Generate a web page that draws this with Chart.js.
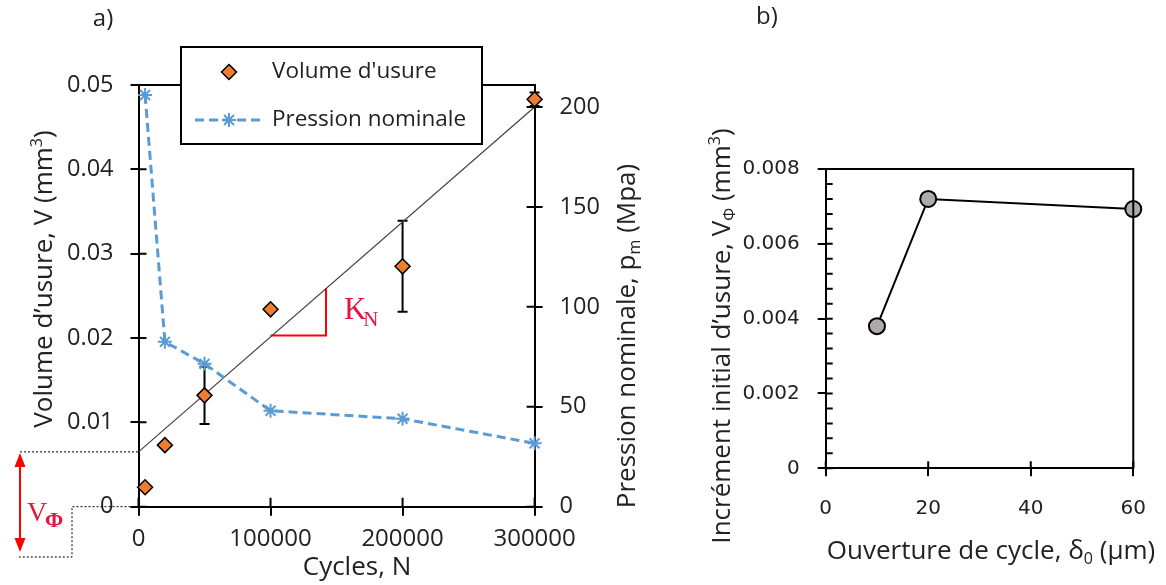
<!DOCTYPE html>
<html lang="fr">
<head>
  <meta charset="UTF-8" />
  <title>Volume d'usure et incrément initial</title>
  <script src="https://cdn.jsdelivr.net/npm/chart.js"></script>
  <style>
    html, body { margin: 0; padding: 0; background: #fff; }
    body { width: 1166px; height: 585px; position: relative; overflow: hidden; }
    #wrapA { position: absolute; left: 0; top: 0; width: 680px; height: 585px; }
    #wrapB { position: absolute; left: 680px; top: 0; width: 486px; height: 585px; }
  </style>
</head>
<body>
  <div id="wrapA"><canvas id="chartA" width="680" height="585"></canvas></div>
  <div id="wrapB"><canvas id="chartB" width="486" height="585"></canvas></div>

  <script>
    // panel a) volume d'usure vs cycles
    const cycles = [5000, 20000, 50000, 100000, 200000, 300000];
    const wearVolume = [0.0023, 0.0073, 0.0132, 0.0234, 0.0285, 0.0483];
    const wearError = [0, 0, 0.0034, 0, 0.0054, 0.0008];
    const pressure = [206, 82.5, 71.5, 48, 44, 31.7];
    const trendCycles = [0, 300000];
    const trendVolume = [0.0065, 0.0474];
    const slopeCycles = [100000, 142000, 142000];
    const slopeVolume = [0.0203, 0.0203, 0.0259];
    const cycleTicks = [0, 100000, 200000, 300000];
    const volumeTicks = [0, 0.01, 0.02, 0.03, 0.04, 0.05];
    const pressureTicks = [0, 50, 100, 150, 200];

    // panel b) incrément initial vs ouverture de cycle
    const opening = [10, 20, 60];
    const initialWear = [0.0038, 0.0072, 0.00693];
    const openingTicks = [0, 20, 40, 60];
    const initialWearTicks = [0, 0.002, 0.004, 0.006, 0.008];

    const TEXT = '#222';
    const SANS = "'Open Sans', sans-serif";
    const SERIF = "'Liberation Serif', serif";

    // text with sub/superscript parts, centred on (x, y)
    function drawRich(ctx, parts, x, y, size, family, color, rotation) {
      ctx.save();
      ctx.translate(x, y);
      ctx.rotate(rotation || 0);
      ctx.fillStyle = color;
      ctx.textBaseline = 'middle';
      ctx.textAlign = 'left';
      let total = 0;
      parts.forEach(p => {
        p.fs = (p.sub || p.sup) ? size * 0.62 : size;
        ctx.font = (p.bold ? 'bold ' : '') + p.fs + 'px ' + family;
        p.w = ctx.measureText(p.t).width;
        total += p.w;
      });
      let cx = -total / 2;
      parts.forEach(p => {
        ctx.font = (p.bold ? 'bold ' : '') + p.fs + 'px ' + family;
        const dy = p.sub ? size * 0.3 : (p.sup ? -size * 0.3 : 0);
        ctx.fillText(p.t, cx, dy);
        cx += p.w;
      });
      ctx.restore();
    }

    // inner half of crossing tick marks
    function innerTicks(ctx, scale, values, len) {
      const area = scale.chart.chartArea;
      ctx.beginPath();
      values.forEach(v => {
        const p = scale.getPixelForValue(v);
        if (scale.position === 'left') { ctx.moveTo(area.left, p); ctx.lineTo(area.left + len, p); }
        else if (scale.position === 'right') { ctx.moveTo(area.right, p); ctx.lineTo(area.right - len, p); }
        else { ctx.moveTo(p, area.bottom); ctx.lineTo(p, area.bottom - len); }
      });
      ctx.stroke();
    }

    function axisStyle(extra) {
      return Object.assign({
        grid: { drawOnChartArea: false, tickLength: 8, color: '#000', lineWidth: 2 },
        border: { color: '#000', width: 2 }
      }, extra);
    }

    const panelA = {
      id: 'panelA',
      beforeDatasetsDraw(chart) {
        const { ctx, scales: { x, y } } = chart;
        ctx.save();
        ctx.strokeStyle = '#000';
        ctx.lineWidth = 2;
        cycles.forEach((n, i) => {
          const e = wearError[i];
          if (!e) return;
          const px = x.getPixelForValue(n);
          const top = y.getPixelForValue(wearVolume[i] + e);
          const bot = y.getPixelForValue(wearVolume[i] - e);
          ctx.beginPath();
          ctx.moveTo(px, top); ctx.lineTo(px, bot);
          ctx.moveTo(px - 5, top); ctx.lineTo(px + 5, top);
          ctx.moveTo(px - 5, bot); ctx.lineTo(px + 5, bot);
          ctx.stroke();
        });
        ctx.restore();
      },
      afterDraw(chart) {
        const { ctx, chartArea: a, scales: { x, y, y1 } } = chart;
        ctx.save();
        ctx.strokeStyle = '#000';
        ctx.lineWidth = 2;
        ctx.beginPath();
        ctx.moveTo(a.left - 1, a.top); ctx.lineTo(a.right + 1, a.top);
        ctx.stroke();
        innerTicks(ctx, x, cycleTicks, 9);
        innerTicks(ctx, y, volumeTicks, 8);
        innerTicks(ctx, y1, pressureTicks, 8);

        // K_N label beside the slope triangle
        const kx = x.getPixelForValue(slopeCycles[1]) + 18;
        const ky = (y.getPixelForValue(slopeVolume[1]) + y.getPixelForValue(slopeVolume[2])) / 2;
        ctx.fillStyle = '#e3173e';
        ctx.textBaseline = 'alphabetic';
        ctx.font = '31px ' + SERIF;
        ctx.fillText('K', kx, ky + 7);
        const kw = ctx.measureText('K').width;
        ctx.font = '21px ' + SERIF;
        ctx.fillText('N', kx + kw - 3, ky + 14);

        // V_phi : intercept of the trend line
        const yInt = y.getPixelForValue(trendVolume[0]);
        const y0 = y.getPixelForValue(0);
        ctx.strokeStyle = '#000';
        ctx.lineWidth = 1;
        ctx.setLineDash([2, 2]);
        ctx.beginPath();
        ctx.moveTo(20, yInt); ctx.lineTo(a.left, yInt);
        ctx.moveTo(a.left, y0); ctx.lineTo(72, y0); ctx.lineTo(72, 557); ctx.lineTo(19, 557);
        ctx.stroke();
        ctx.setLineDash([]);
        ctx.strokeStyle = '#ff0000';
        ctx.fillStyle = '#ff0000';
        ctx.lineWidth = 2;
        const ax = 20, t = yInt + 1, b = 552;
        ctx.beginPath();
        ctx.moveTo(ax, t + 12); ctx.lineTo(ax, b - 12);
        ctx.stroke();
        ctx.beginPath();
        ctx.moveTo(ax, t); ctx.lineTo(ax - 5.5, t + 14); ctx.lineTo(ax + 5.5, t + 14); ctx.closePath();
        ctx.moveTo(ax, b); ctx.lineTo(ax - 5.5, b - 14); ctx.lineTo(ax + 5.5, b - 14); ctx.closePath();
        ctx.fill();
        ctx.fillStyle = '#e3173e';
        ctx.font = '28px ' + SERIF;
        ctx.fillText('V', 27, 521);
        ctx.font = 'bold 22px ' + SERIF;
        ctx.fillText('\u03A6', 45, 527);

        // legend
        ctx.fillStyle = '#fff';
        ctx.fillRect(181, 47, 301, 97);
        ctx.strokeStyle = '#000';
        ctx.lineWidth = 2;
        ctx.strokeRect(181, 47, 301, 97);
        // diamond
        ctx.beginPath();
        ctx.moveTo(229, 64.5); ctx.lineTo(236.5, 72); ctx.lineTo(229, 79.5); ctx.lineTo(221.5, 72); ctx.closePath();
        ctx.fillStyle = '#ED7D31';
        ctx.fill();
        ctx.lineWidth = 1.5;
        ctx.stroke();
        // dashed line with star
        ctx.strokeStyle = '#5B9BD5';
        ctx.lineWidth = 3;
        ctx.setLineDash([9, 5]);
        ctx.beginPath();
        ctx.moveTo(195, 120); ctx.lineTo(264, 120);
        ctx.stroke();
        ctx.setLineDash([]);
        ctx.lineWidth = 2;
        ctx.beginPath();
        for (let k = 0; k < 4; k++) {
          const ang = k * Math.PI / 4;
          ctx.moveTo(229 - 7 * Math.cos(ang), 120 - 7 * Math.sin(ang));
          ctx.lineTo(229 + 7 * Math.cos(ang), 120 + 7 * Math.sin(ang));
        }
        ctx.stroke();
        ctx.fillStyle = TEXT;
        ctx.font = '22.5px ' + SANS;
        ctx.textBaseline = 'middle';
        ctx.fillText("Volume d'usure", 272, 72);
        ctx.fillText('Pression nominale', 272, 120);

        // titles
        drawRich(ctx, [{ t: 'a)' }], 103, 19, 24, SANS, TEXT);
        drawRich(ctx, [{ t: 'Volume d\u2019usure, V (mm' }, { t: '3', sup: true }, { t: ')' }], 45, 279, 26, SANS, TEXT, -Math.PI / 2);
        drawRich(ctx, [{ t: 'Pression nominale, p' }, { t: 'm', sub: true }, { t: ' (Mpa)' }], 628, 336, 26, SANS, TEXT, -Math.PI / 2);
        drawRich(ctx, [{ t: 'Cycles, N' }], 357, 568, 26, SANS, TEXT);
        ctx.restore();
      }
    };

    new Chart(document.getElementById('chartA'), {
      type: 'scatter',
      data: {
        datasets: [
          {
            label: "Volume d'usure",
            data: cycles.map((n, i) => ({ x: n, y: wearVolume[i] })),
            yAxisID: 'y',
            showLine: false,
            pointStyle: 'rectRot',
            pointRadius: 7.5,
            pointBackgroundColor: '#ED7D31',
            pointBorderColor: '#000',
            pointBorderWidth: 1.5,
            clip: false
          },
          {
            label: 'Pression nominale',
            data: cycles.map((n, i) => ({ x: n, y: pressure[i] })),
            yAxisID: 'y1',
            showLine: true,
            borderColor: '#5B9BD5',
            borderWidth: 3,
            borderDash: [9, 5],
            pointStyle: 'star',
            pointRadius: 7,
            pointBorderColor: '#5B9BD5',
            pointBorderWidth: 2,
            clip: false
          },
          {
            label: 'tendance',
            data: trendCycles.map((n, i) => ({ x: n, y: trendVolume[i] })),
            yAxisID: 'y',
            showLine: true,
            borderColor: '#404040',
            borderWidth: 1.2,
            pointRadius: 0
          },
          {
            label: 'K_N',
            data: slopeCycles.map((n, i) => ({ x: n, y: slopeVolume[i] })),
            yAxisID: 'y',
            showLine: true,
            borderColor: '#ff0000',
            borderWidth: 2,
            pointRadius: 0
          }
        ]
      },
      options: {
        responsive: false,
        animation: false,
        events: [],
        layout: { padding: { top: 85, left: 0, right: 0, bottom: 0 } },
        plugins: { legend: { display: false }, tooltip: { enabled: false } },
        scales: {
          x: axisStyle({
            type: 'linear', position: 'bottom', min: 0, max: 300000,
            grid: { drawOnChartArea: false, tickLength: 9, color: '#000', lineWidth: 2 },
            afterBuildTicks: s => { s.ticks = cycleTicks.map(v => ({ value: v })); },
            afterFit: s => { s.height = 78.3; },
            ticks: { color: TEXT, font: { family: SANS, size: 24 }, padding: 9, maxRotation: 0, callback: v => String(v) }
          }),
          y: axisStyle({
            type: 'linear', position: 'left', min: 0, max: 0.05,
            afterBuildTicks: s => { s.ticks = volumeTicks.map(v => ({ value: v })); },
            afterFit: s => { s.width = 138.5; },
            ticks: { color: TEXT, font: { family: SANS, size: 23.5 }, padding: 17, callback: v => v === 0 ? '0' : v.toFixed(2) }
          }),
          y1: axisStyle({
            type: 'linear', position: 'right', min: 0, max: 211,
            afterBuildTicks: s => { s.ticks = pressureTicks.map(v => ({ value: v })); },
            afterFit: s => { s.width = 145.4; },
            ticks: { color: TEXT, font: { family: SANS, size: 23.5 }, padding: 17, callback: v => String(v) }
          })
        }
      },
      plugins: [panelA]
    });

    const panelB = {
      id: 'panelB',
      afterDraw(chart) {
        const { ctx, chartArea: a, scales: { x, y } } = chart;
        ctx.save();
        ctx.strokeStyle = '#000';
        ctx.lineWidth = 2;
        ctx.beginPath();
        ctx.moveTo(a.left - 1, a.top); ctx.lineTo(a.right, a.top); ctx.lineTo(a.right, a.bottom);
        ctx.stroke();
        innerTicks(ctx, x, openingTicks, 7);
        innerTicks(ctx, y, initialWearTicks, 7);
        // minor ticks every 0.0004
        const minor = [];
        for (let k = 1; k < 20; k++) if (k % 5) minor.push(k * 0.0004);
        innerTicks(ctx, y, minor, 7);

        drawRich(ctx, [{ t: 'b)' }], 87, 17, 24, SANS, TEXT);
        drawRich(ctx, [{ t: 'Incr\u00e9ment initial d\u2019usure, V' }, { t: '\u03A6', sub: true }, { t: ' (mm' }, { t: '3', sup: true }, { t: ')' }], 43, 336, 26, SANS, TEXT, -Math.PI / 2);
        drawRich(ctx, [{ t: 'Ouverture de cycle, \u03B4' }, { t: '0', sub: true }, { t: ' (\u00B5m)' }], 311, 552, 26, SANS, TEXT);
        ctx.restore();
      }
    };

    new Chart(document.getElementById('chartB'), {
      type: 'scatter',
      data: {
        datasets: [{
          label: 'Incrément initial',
          data: opening.map((d, i) => ({ x: d, y: initialWear[i] })),
          showLine: true,
          borderColor: '#000',
          borderWidth: 2,
          pointRadius: 8,
          pointBackgroundColor: '#AEAAAA',
          pointBorderColor: '#000',
          pointBorderWidth: 2,
          clip: false
        }]
      },
      options: {
        responsive: false,
        animation: false,
        events: [],
        layout: { padding: { top: 169, left: 0, right: 32, bottom: 0 } },
        plugins: { legend: { display: false }, tooltip: { enabled: false } },
        scales: {
          x: axisStyle({
            type: 'linear', position: 'bottom', min: 0, max: 60,
            afterBuildTicks: s => { s.ticks = openingTicks.map(v => ({ value: v })); },
            afterFit: s => { s.height = 116.7; },
            ticks: { color: TEXT, font: { family: "'DejaVu Sans', sans-serif", size: 20 }, padding: 20, maxRotation: 0, callback: v => String(v) }
          }),
          y: axisStyle({
            type: 'linear', position: 'left', min: 0, max: 0.008,
            afterBuildTicks: s => { s.ticks = initialWearTicks.map(v => ({ value: v })); },
            afterFit: s => { s.width = 145.7; },
            ticks: { color: TEXT, font: { family: "'DejaVu Sans', sans-serif", size: 20 }, padding: 18, callback: v => v === 0 ? '0' : v.toFixed(3) }
          })
        }
      },
      plugins: [panelB]
    });
  </script>
</body>
</html>
